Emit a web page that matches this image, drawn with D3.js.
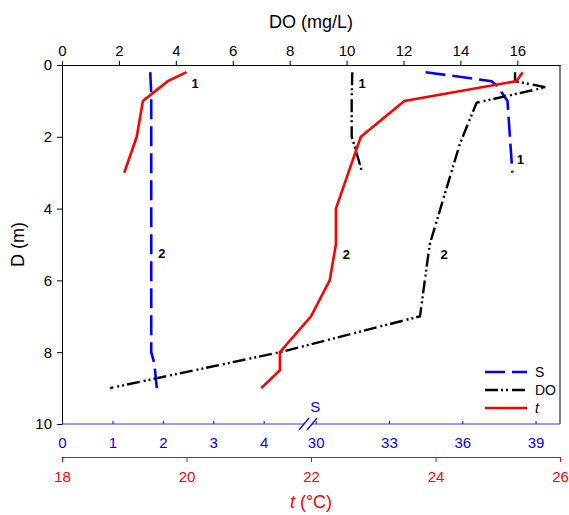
<!DOCTYPE html>
<html>
<head>
<meta charset="utf-8">
<script src="https://cdn.jsdelivr.net/npm/d3@7"></script>
<style>
  body { margin: 0; background: #fff; }
  svg text { font-family: "Liberation Sans", Arial, sans-serif; }
</style>
</head>
<body>
<div id="profile-chart"></div>
<script>
// profiles: depth (m) vs value
const depthS1 = [0.2, 0.45, 0.6, 1, 3];
const salS1   = [34.5, 37.2, 37.45, 37.85, 38.05];
const depthS2 = [0.2, 0.8, 8, 8.3, 9];
const salS2   = [1.75, 1.77, 1.77, 1.83, 1.88];

const depthDO1 = [0.2, 1, 2, 2.3, 3];
const oxyDO1   = [10.2, 10.18, 10.18, 10.3, 10.55];
const depthDO2 = [0.2, 0.45, 0.62, 1.05, 2.2, 5, 7, 8, 9];
const oxyDO2   = [15.92, 15.92, 17.0, 14.57, 13.98, 12.92, 12.58, 7.66, 1.69];

const depthT1 = [0.2, 0.45, 1, 2, 3];
const tempT1  = [20.0, 19.7, 19.3, 19.2, 19.0];
const depthT2 = [0.2, 0.45, 1, 2, 4, 5, 6, 7, 8, 8.5, 9];
const tempT2  = [25.4, 25.3, 23.5, 22.8, 22.4, 22.4, 22.3, 22.0, 21.5, 21.5, 21.2];

// tick labels
const depthTicks = [0, 2, 4, 6, 8, 10];
const doTicks = [0, 2, 4, 6, 8, 10, 12, 14, 16];
const sTicks = [0, 1, 2, 3, 4, 30, 33, 36, 39];
const tTicks = [18, 20, 22, 24, 26];

// profile number tags (series, value, depth)
const tagText   = ["1", "2", "1", "2", "2", "1"];
const tagSeries = ["t", "S", "DO", "t", "DO", "S"];
const tagValue  = [20.14, 1.98, 10.55, 22.57, 13.43, 38.38];
const tagDepth  = [0.51, 5.25, 0.51, 5.27, 5.27, 2.63];

const legendNames = ["S", "DO", "t"];

const margin = { top: 65, right: 9, bottom: 91, left: 62 };
const width = 569 - margin.left - margin.right;
const height = 515 - margin.top - margin.bottom;

const root = d3.select("#profile-chart")
    .append("svg")
    .attr("width", width + margin.left + margin.right)
    .attr("height", height + margin.top + margin.bottom);

const svg = root.append("g")
    .attr("transform", `translate(${margin.left}, ${margin.top})`);

const y = d3.scaleLinear().domain([0, 10]).range([0, height]);
const xDO = d3.scaleLinear().domain([0, 17.5]).range([0, width]);
const xT = d3.scaleLinear().domain([18, 26]).range([0, width]);
// broken salinity axis: 0-4.8 then 29.85-40
const xS = d3.scaleLinear().domain([0, 4.8, 29.85, 40]).range([0, 242, 250, width]);

const blue = "#0000ff";
const red = "#ff0000";

// top DO axis
const topAx = svg.append("g")
    .call(d3.axisTop(xDO).tickValues(doTicks).tickSize(4).tickPadding(5).tickSizeOuter(0));
topAx.attr("font-size", 15).attr("font-family", null);
topAx.selectAll("path, line").attr("stroke", "#000");

// left depth axis
const leftAx = svg.append("g")
    .call(d3.axisLeft(y).tickValues(depthTicks).tickSize(5).tickPadding(5).tickSizeOuter(0));
leftAx.attr("font-size", 15).attr("font-family", null);

// right frame
svg.append("line")
    .attr("x1", width).attr("x2", width)
    .attr("y1", 0).attr("y2", height)
    .attr("stroke", "#000");

// bottom salinity axis (blue, broken)
const sAx = svg.append("g")
    .attr("transform", `translate(0, ${height})`)
    .call(d3.axisBottom(xS).tickValues(sTicks).tickSizeInner(-3).tickSizeOuter(0).tickPadding(13.5));
sAx.attr("font-size", 15).attr("font-family", null);
sAx.select(".domain").remove();
sAx.selectAll("line").attr("stroke", blue);
sAx.selectAll("text").attr("fill", blue);

const b1 = xS(4.8), b2 = xS(29.85);
sAx.append("line").attr("x1", 0).attr("x2", b1).attr("stroke", "#3333ff");
sAx.append("line").attr("x1", b2).attr("x2", width).attr("stroke", "#3333ff");
[b1, b2].forEach(bx => {
    sAx.append("line")
        .attr("x1", bx - 5).attr("y1", 6)
        .attr("x2", bx + 5).attr("y2", -6)
        .attr("stroke", blue).attr("stroke-width", 1.2);
});
sAx.append("text")
    .attr("x", xS(30) - 0.5)
    .attr("y", -12)
    .attr("text-anchor", "middle")
    .attr("fill", blue)
    .text("S");

// temperature axis (red, offset below)
const tAx = svg.append("g")
    .attr("transform", `translate(0, ${height + 33})`)
    .call(d3.axisBottom(xT).tickValues(tTicks).tickSize(5).tickPadding(9.5).tickSizeOuter(0));
tAx.attr("font-size", 15).attr("font-family", null);
tAx.selectAll("path, line").attr("stroke", red);
tAx.selectAll("text").attr("fill", red);

// axis titles
root.append("text")
    .attr("x", margin.left + width / 2)
    .attr("y", 28)
    .attr("text-anchor", "middle")
    .style("font-size", "18px")
    .text("DO (mg/L)");

const tTitle = root.append("text")
    .attr("x", margin.left + width / 2)
    .attr("y", 508)
    .attr("text-anchor", "middle")
    .attr("fill", red)
    .style("font-size", "18px");
tTitle.append("tspan").style("font-style", "italic").text("t");
tTitle.append("tspan").text(" (°C)");

root.append("text")
    .attr("transform", "rotate(-90)")
    .attr("x", -(margin.top + height / 2))
    .attr("y", 24)
    .attr("text-anchor", "middle")
    .style("font-size", "18px")
    .text("D (m)");

// profile lines
const lineS = d3.line().x(d => xS(d[1])).y(d => y(d[0]));
const lineDO = d3.line().x(d => xDO(d[1])).y(d => y(d[0]));
const lineT = d3.line().x(d => xT(d[1])).y(d => y(d[0]));

const sDash = "20,7";
const doDash = "13,3,2,3,2,4";

[[depthS1, salS1], [depthS2, salS2]].forEach(p => {
    svg.append("path")
        .attr("fill", "none")
        .attr("stroke", blue)
        .attr("stroke-width", 2.6)
        .attr("stroke-dasharray", sDash)
        .attr("d", lineS(d3.zip(p[0], p[1])));
});

[[depthDO1, oxyDO1], [depthDO2, oxyDO2]].forEach(p => {
    svg.append("path")
        .attr("fill", "none")
        .attr("stroke", "#000")
        .attr("stroke-width", 2.4)
        .attr("stroke-dasharray", doDash)
        .attr("d", lineDO(d3.zip(p[0], p[1])));
});

[[depthT1, tempT1], [depthT2, tempT2]].forEach(p => {
    svg.append("path")
        .attr("fill", "none")
        .attr("stroke", red)
        .attr("stroke-width", 2.6)
        .attr("d", lineT(d3.zip(p[0], p[1])));
});

// profile tags
const tagScale = { S: xS, DO: xDO, t: xT };
svg.selectAll(".tag")
    .data(tagText)
    .enter()
    .append("text")
    .attr("class", "tag")
    .attr("x", (d, i) => tagScale[tagSeries[i]](tagValue[i]))
    .attr("y", (d, i) => y(tagDepth[i]))
    .attr("dy", "0.36em")
    .attr("text-anchor", "middle")
    .style("font-size", "13px")
    .style("font-weight", "bold")
    .text(d => d);

// legend
const legend = svg.append("g")
    .attr("transform", `translate(${485 - margin.left}, ${372 - margin.top})`);

const legendStyle = {
    S: { stroke: blue, dash: sDash, w: 2.6 },
    DO: { stroke: "#000", dash: doDash, w: 2.4 },
    t: { stroke: red, dash: null, w: 2.6 }
};

legendNames.forEach((name, i) => {
    const row = legend.append("g").attr("transform", `translate(0, ${i * 18})`);
    row.append("line")
        .attr("x1", 0).attr("x2", 42)
        .attr("stroke", legendStyle[name].stroke)
        .attr("stroke-width", legendStyle[name].w)
        .attr("stroke-dasharray", legendStyle[name].dash);
    row.append("text")
        .attr("x", 50)
        .attr("dy", "0.36em")
        .style("font-size", "14px")
        .style("font-style", name === "t" ? "italic" : "normal")
        .text(name);
});
</script>
</body>
</html>
